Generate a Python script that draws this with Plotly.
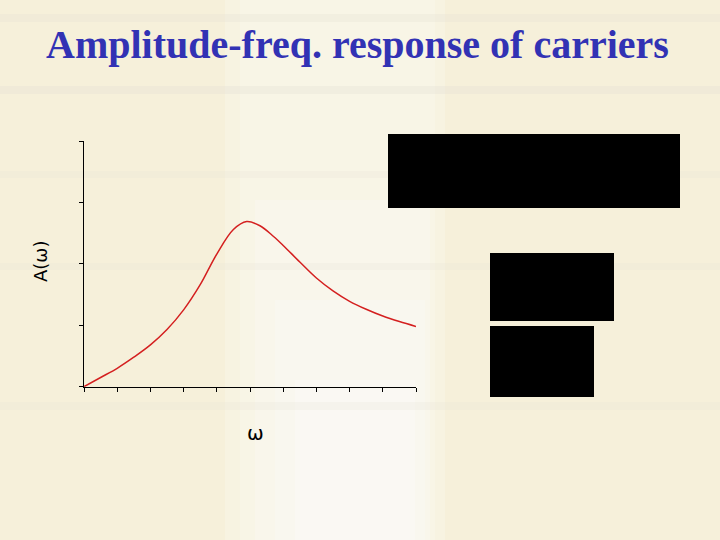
import plotly.graph_objects as go

# Data
omega = [0, 0.5, 1, 1.5, 2, 2.5, 3, 3.5, 4, 4.5, 4.9, 5.3, 5.7, 6, 6.5, 7, 7.5, 8, 8.5, 9, 9.5, 10]
amplitude = [0, 0.15, 0.30, 0.48, 0.68, 0.93, 1.25, 1.66, 2.16, 2.56, 2.69, 2.62, 2.45, 2.30, 2.03, 1.77, 1.56, 1.39, 1.26, 1.15, 1.06, 0.98]

x_ticks = list(range(0, 11))
y_ticks = list(range(0, 5))

title_text = "Amplitude-freq. response of carriers"
x_label = "ω"
y_label = "A(ω)"

W, H = 720, 540

def px_x(p):
    return p / W

def px_y(p):
    return 1 - p / H

fig = go.Figure()
fig.add_trace(go.Scatter(
    x=omega, y=amplitude, mode="lines",
    line=dict(color="#d42020", width=1.5, shape="spline", smoothing=1.0),
    hoverinfo="skip", showlegend=False,
))

shapes = []
# background texture approximation (soft layered bands)
bg_bands = [
    (0, 0, 720, 540, "rgba(246,240,218,1)"),
    (225, 0, 445, 540, "rgba(250,250,246,0.25)"),
    (240, 0, 435, 540, "rgba(250,250,246,0.25)"),
    (255, 200, 430, 540, "rgba(252,252,250,0.25)"),
    (275, 300, 425, 540, "rgba(252,252,252,0.25)"),
    (295, 380, 415, 540, "rgba(253,253,253,0.3)"),
    (0, 14, 720, 22, "rgba(228,224,212,0.3)"),
    (0, 86, 720, 94, "rgba(226,223,212,0.3)"),
    (0, 171, 720, 178, "rgba(230,226,214,0.25)"),
    (0, 263, 720, 270, "rgba(232,228,216,0.25)"),
    (0, 402, 720, 410, "rgba(232,228,216,0.25)"),
]
for x0, y0, x1, y1, c in bg_bands:
    shapes.append(dict(type="rect", xref="paper", yref="paper",
                       x0=px_x(x0), x1=px_x(x1), y0=px_y(y1), y1=px_y(y0),
                       fillcolor=c, line=dict(width=0), layer="below"))
# black boxes
for x0, y0, x1, y1 in [(388, 134, 680, 208), (490, 253, 614, 321), (490, 326, 594, 397)]:
    shapes.append(dict(type="rect", xref="paper", yref="paper",
                       x0=px_x(x0), x1=px_x(x1), y0=px_y(y1), y1=px_y(y0),
                       fillcolor="black", line=dict(width=0), layer="above"))

fig.update_layout(
    width=W, height=H,
    margin=dict(l=0, r=0, t=0, b=0),
    paper_bgcolor="rgba(246,240,218,1)",
    plot_bgcolor="rgba(0,0,0,0)",
    shapes=shapes,
    xaxis=dict(domain=[px_x(84), px_x(416)], range=[0, 10], tickvals=x_ticks,
               showticklabels=False, ticks="outside", ticklen=4, tickcolor="black",
               showline=True, linecolor="black", linewidth=1.5, showgrid=False,
               zeroline=False, fixedrange=True),
    yaxis=dict(domain=[px_y(386.7), px_y(141)], range=[0, 4], tickvals=y_ticks,
               showticklabels=False, ticks="outside", ticklen=4, tickcolor="black",
               showline=True, linecolor="black", linewidth=1.5, showgrid=False,
               zeroline=False, fixedrange=True),
    annotations=[
        dict(text=f"<b>{title_text}</b>", xref="paper", yref="paper",
             x=px_x(357), y=px_y(44), showarrow=False, xanchor="center", yanchor="middle",
             font=dict(family="Liberation Serif, Times New Roman, serif", size=40, color="#3232b4")),
        dict(text=x_label, xref="paper", yref="paper",
             x=px_x(255), y=px_y(433), showarrow=False, xanchor="center", yanchor="middle",
             font=dict(family="DejaVu Sans, sans-serif", size=20, color="black")),
        dict(text=y_label, xref="paper", yref="paper", textangle=-90,
             x=px_x(40), y=px_y(262), showarrow=False, xanchor="center", yanchor="middle",
             font=dict(family="DejaVu Sans, sans-serif", size=18, color="black")),
    ],
)

fig.write_html(
    "out.html",
    config={"displayModeBar": False, "staticPlot": True},
    post_script="document.body.style.margin='0';document.body.style.background='#f6f0da';",
)
